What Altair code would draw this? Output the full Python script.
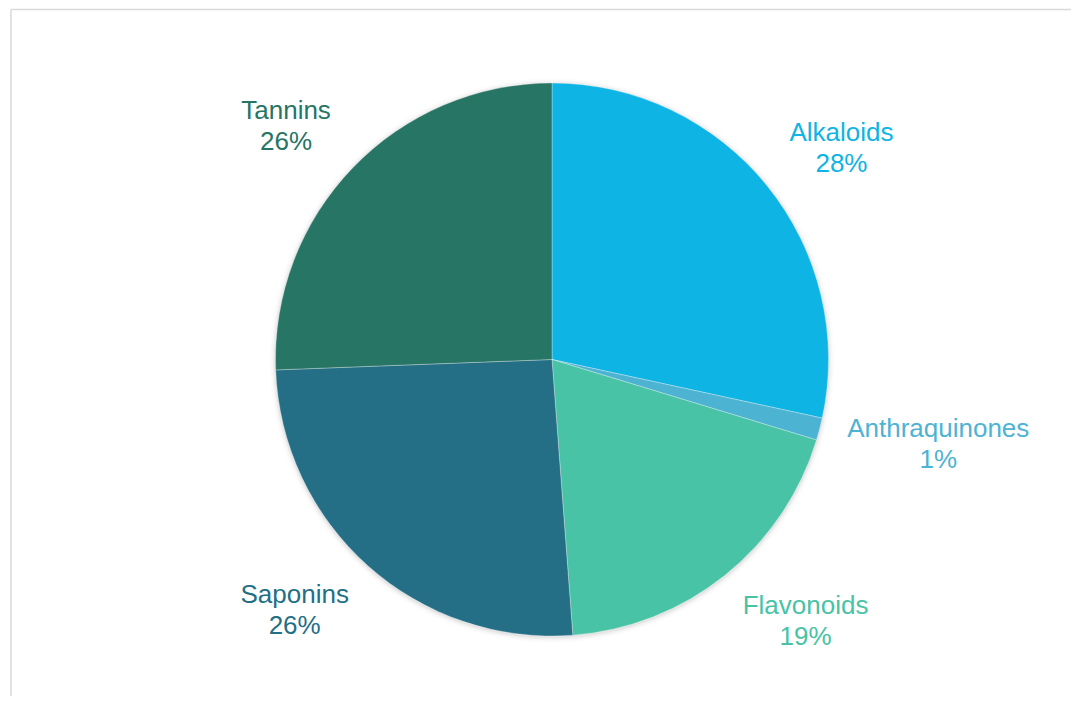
import math
import altair as alt
import pandas as pd

categories = ["Alkaloids", "Anthraquinones", "Flavonoids", "Saponins", "Tannins"]
values = [28.4, 1.3, 19.1, 25.6, 25.6]
colors = ["#0EB4E3", "#4DB3D3", "#48C3A5", "#246F86", "#277564"]

CX, CY, R = 544, 351.5, 276.5
FONT_SIZE, LINE_H = 26, 31
ANCHOR_R = 305  # where the label box touches, measured from centre

# approximate Arial advance widths (em) for laying labels outside the pie
_W = {"A": .667, "F": .611, "S": .667, "T": .611, "a": .556, "d": .556, "e": .556,
      "h": .556, "i": .222, "k": .5, "l": .222, "n": .556, "o": .556, "p": .556,
      "q": .556, "r": .333, "s": .5, "t": .278, "u": .556, "v": .5, "%": .889}


def text_w(s):
    return sum(_W.get(ch, .556) for ch in s) * FONT_SIZE


df = pd.DataFrame({
    "category": categories,
    "value": values,
    "order": list(range(len(categories))),
})
total = df["value"].sum()
mid = df["value"].cumsum() - df["value"] / 2
df["label"] = [f"{c}\n{round(v)}%" for c, v in zip(df["category"], df["value"])]

lt, lr = [], []
for c, m in zip(df["category"], mid):
    th = 2 * math.pi * m / total
    s, co = math.sin(th), math.cos(th)
    w, h = text_w(c), 2 * LINE_H
    sx = max(-1, min(1, 2 * s))
    sy = co
    xr = ANCHOR_R * s + sx * w / 2
    yr = -ANCHOR_R * co - sy * h / 2
    lr.append(math.hypot(xr, yr))
    lt.append(math.atan2(xr, -yr) % (2 * math.pi))
df["lt"] = lt
df["lr"] = lr

color = alt.Color("category:N", scale=alt.Scale(domain=categories, range=colors), legend=None)
tscale = alt.Scale(domain=[0, total], range=[0, 2 * math.pi])

blank = alt.Data(values=[{"a": 1}])

shadows = [
    alt.Chart(blank).mark_arc(theta=0, theta2=6.2832, radius=R + dr, color="#000000", opacity=op)
    .encode(x=alt.value(CX), y=alt.value(CY + 1))
    for dr, op in [(6, 0.012), (4, 0.02), (2.5, 0.03), (1.2, 0.045)]
]

pie = alt.Chart(df).mark_arc(radius=R, stroke="#ffffff", strokeWidth=0.6, strokeOpacity=0.5).encode(
    theta=alt.Theta("value:Q", stack=True, scale=tscale),
    order=alt.Order("order:Q"),
    color=color,
    x=alt.value(CX), y=alt.value(CY),
)

labels = alt.Chart(df).mark_text(
    font="Liberation Sans", fontSize=FONT_SIZE, lineBreak="\n", lineHeight=LINE_H,
    align="center", baseline="middle", dy=-LINE_H / 2,
).encode(
    theta=alt.Theta("lt:Q", stack=None, scale=None),
    radius=alt.Radius("lr:Q", scale=None),
    color=color,
    text="label:N",
    x=alt.value(CX), y=alt.value(CY),
)

top_border = alt.Chart(blank).mark_rule(color="#d9d9d9", strokeWidth=1.5).encode(
    x=alt.value(3), x2=alt.value(1063), y=alt.value(1.5)
)
left_border = alt.Chart(blank).mark_rule(color="#d9d9d9", strokeWidth=1.5).encode(
    x=alt.value(3), y=alt.value(1.5), y2=alt.value(688)
)

chart = alt.layer(*shadows, pie, labels, top_border, left_border).resolve_scale(
    theta="independent", radius="independent"
).properties(
    width=1063, height=688, autosize="none", padding=0, background="#ffffff"
).configure_view(stroke=None)

chart.save("out.html", embed_options={"renderer": "svg", "actions": False})
